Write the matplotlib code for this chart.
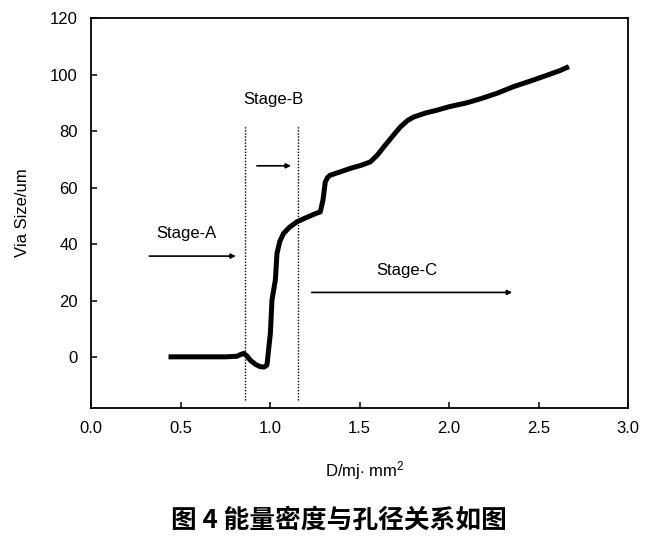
import matplotlib
matplotlib.use("Agg")
import matplotlib.pyplot as plt

plt.rcParams['font.family'] = ['Liberation Sans', 'DejaVu Sans']
plt.rcParams['mathtext.fontset'] = 'custom'
plt.rcParams['mathtext.rm'] = 'Liberation Sans'
plt.rcParams['mathtext.it'] = 'Liberation Sans'

# Data
energy_density = [0.433, 0.60, 0.75, 0.815, 0.835, 0.853, 0.87, 0.89, 0.92, 0.946,
                  0.968, 0.983, 0.992, 1.002, 1.011, 1.03, 1.039, 1.055, 1.076, 1.11,
                  1.151, 1.20, 1.255, 1.281, 1.296, 1.309, 1.322, 1.337, 1.39, 1.449,
                  1.51, 1.561, 1.60, 1.636, 1.68, 1.729, 1.77, 1.804, 1.87, 1.934,
                  2.00, 2.10, 2.18, 2.27, 2.36, 2.46, 2.55, 2.62, 2.67]
via_size = [0.1, 0.1, 0.1, 0.3, 0.9, 1.3, 0.5, -1.1, -2.6, -3.4,
            -3.5, -2.8, 2.5, 8.4, 20.2, 27.3, 36.7, 41.0, 43.8, 46.0,
            47.9, 49.3, 50.8, 51.4, 55.6, 62.0, 63.6, 64.4, 65.5, 66.8,
            67.9, 69.1, 71.5, 74.4, 77.8, 81.5, 83.8, 85.0, 86.4, 87.4,
            88.6, 90.0, 91.5, 93.4, 95.7, 97.8, 99.8, 101.4, 102.8]

stage_bounds = [0.862, 1.157]
stage_labels = ["Stage-A", "Stage-B", "Stage-C"]
stage_label_pos = [(0.535, 43.8), (1.02, 91.3), (1.767, 30.5)]
stage_arrows = [((0.326, 35.75), (0.809, 35.75)),
                ((0.927, 67.7), (1.117, 67.7)),
                ((1.233, 22.9), (2.353, 22.9))]

x_ticks = [0.0, 0.5, 1.0, 1.5, 2.0, 2.5, 3.0]
y_ticks = [0, 20, 40, 60, 80, 100, 120]

fig = plt.figure(figsize=(6.55, 5.47), dpi=100)
ax = fig.add_axes([91/655, 1-408/547, 537/655, 390/547])

ax.plot(energy_density, via_size, color='black', lw=3.6,
        solid_joinstyle='round', solid_capstyle='butt')

for xb in stage_bounds:
    ax.plot([xb, xb], [-15.2, 82.1], color='black', lw=1.0, ls=(0, (1, 1.2)))

for lab, (tx, ty) in zip(stage_labels, stage_label_pos):
    ax.text(tx, ty, lab, ha='center', va='center', fontsize=12)

for (p0, p1) in stage_arrows:
    ax.annotate('', xy=p1, xytext=p0,
                arrowprops=dict(arrowstyle='-|>', color='black', lw=1.2,
                                mutation_scale=7, shrinkA=0, shrinkB=0))

ax.set_xlim(0, 3.0)
ax.set_ylim(-18, 120)
ax.set_xticks(x_ticks)
ax.set_xticklabels([f"{v:.1f}" for v in x_ticks])
ax.set_yticks(y_ticks)
ax.tick_params(direction='in', length=4.5, width=1.1, labelsize=12, pad=9.5)
for s in ax.spines.values():
    s.set_linewidth(1.3)

ax.set_ylabel("Via Size/um", fontsize=12, va='center')
ax.yaxis.set_label_coords((23-91)/537, 0.5)
ax.set_xlabel(r"D/mj$\cdot$ mm$^{\mathrm{2}}$", fontsize=12, va='center')
ax.xaxis.set_label_coords((365-91)/537, (408-471)/390)

fig.text(339/655, 1-520/547, "图 4 能量密度与孔径关系如图", ha='center', va='center',
         fontsize=18.5, fontweight='bold',
         family=['Noto Sans CJK SC', 'DejaVu Sans'])

fig.savefig("out.png", dpi=100)
